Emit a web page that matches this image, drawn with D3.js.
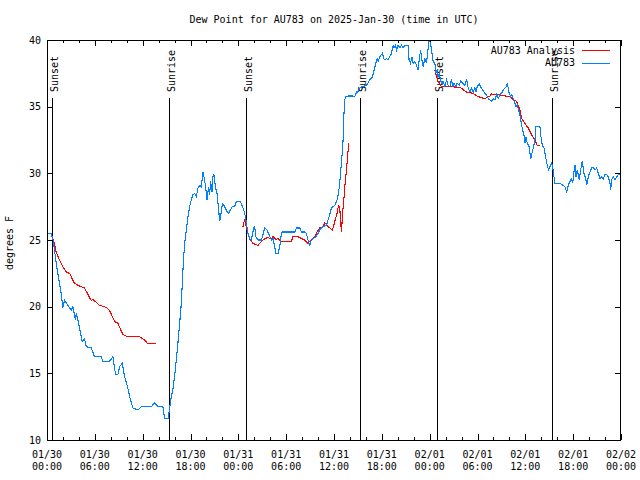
<!DOCTYPE html>
<html><head><meta charset="utf-8">
<script src="https://cdn.jsdelivr.net/npm/d3@7"></script>
<style>
body{margin:0;background:#fff}
svg{display:block;background:#fff}
text{font-family:"DejaVu Sans Mono","Liberation Mono",monospace;font-size:10px;fill:#000}
</style>
</head><body>
<svg id="chart" width="640" height="480"></svg>
<script>
// ---- data ----
const chartTitle = "Dew Point for AU783 on 2025-Jan-30 (time in UTC)";
const yAxisLabel = "degrees F";
const startUTC = Date.UTC(2025, 0, 30, 0, 0);
const xMajorHours = [0, 6, 12, 18, 24, 30, 36, 42, 48, 54, 60, 66, 72];
const xMinorHours = d3.range(0, 73, 2);
const yTickValues = [10, 15, 20, 25, 30, 35, 40];
const seriesNames = ["AU783 Analysis", "AU783"];
const seriesColors = ["#ff0000", "#0080ff"];
const sunLabels = ["Sunset", "Sunrise", "Sunset", "Sunrise", "Sunset", "Sunrise"];
const sunHours  = [0.68, 15.26, 24.9, 39.3, 48.92, 63.38];

// observed dew point [hour since start, °F]
const obs = [[0,25.5],[0.53,25.45],[0.73,25.1],[0.94,24.25],[1.16,23.25],[1.36,22.5],[1.57,21.75],[1.78,21.0],[1.98,19.9],[2.2,20.5],[2.61,20.1],[3.04,19.75],[3.24,20.0],[3.58,19.0],[3.67,19.5],[3.87,19.0],[4.08,18.4],[4.42,17.4],[4.71,17.6],[4.92,17.0],[5.55,16.9],[5.96,16.25],[6.8,16.25],[7.0,15.9],[7.85,15.9],[8.26,16.25],[8.6,14.9],[8.89,14.9],[9.1,15.5],[9.44,15.75],[9.73,14.75],[10.14,13.9],[10.36,13.25],[10.77,12.4],[11.4,12.25],[11.83,12.5],[13.08,12.5],[13.5,12.8],[13.91,12.5],[14.54,12.5],[14.75,11.6],[15.17,11.6],[15.29,12.0],[15.59,13.25],[15.79,13.75],[16.0,14.75],[16.22,16.0],[16.42,17.25],[16.64,18.75],[16.85,20.25],[17.05,22.75],[17.26,24.75],[17.48,25.75],[17.68,26.75],[17.89,27.5],[18.1,28.0],[18.31,28.4],[18.52,28.5],[18.73,28.25],[18.93,28.9],[19.15,29.1],[19.36,29.0],[19.56,30.1],[19.69,29.75],[19.9,29.0],[20.06,28.0],[20.28,29.0],[20.4,28.4],[20.53,29.4],[20.69,28.6],[20.82,29.75],[20.94,29.9],[21.12,29.0],[21.32,28.5],[21.53,27.25],[21.66,26.4],[21.78,26.75],[22.0,27.75],[22.2,27.6],[22.37,27.4],[22.62,27.1],[22.79,27.0],[23.0,27.25],[23.25,27.5],[23.54,27.5],[23.75,27.9],[24.17,27.9],[24.38,27.75],[24.58,27.4],[24.8,27.0],[24.92,26.6],[25.08,26.0],[25.21,25.5],[25.34,25.25],[25.42,25.1],[25.64,25.0],[25.93,25.9],[26.05,26.0],[26.18,25.25],[26.47,25.0],[26.89,25.0],[27.09,25.4],[27.31,25.9],[27.6,25.75],[27.85,25.4],[28.15,25.0],[28.35,25.1],[28.56,24.5],[28.69,24.0],[28.98,24.0],[29.19,24.5],[29.4,25.5],[29.53,25.6],[31.07,25.6],[31.29,25.9],[31.7,25.9],[31.92,25.6],[32.33,25.6],[32.54,25.5],[32.74,25.0],[32.96,24.6],[33.08,24.9],[33.37,25.1],[33.71,25.25],[34.0,25.5],[34.21,25.75],[34.63,26.0],[35.05,26.1],[35.25,26.5],[35.47,26.9],[35.68,27.4],[36.1,27.6],[36.38,28.0],[36.56,28.5],[36.72,29.25],[36.85,30.25],[36.97,31.0],[37.14,32.5],[37.23,34.25],[37.35,35.5],[37.48,35.75],[37.77,35.8],[38.39,35.8],[38.61,35.75],[38.82,36.1],[39.02,36.1],[39.32,36.45],[40.08,36.6],[40.49,37.0],[40.83,37.25],[41.03,37.75],[41.24,38.25],[41.41,38.6],[41.53,38.4],[41.74,38.75],[41.96,38.9],[42.08,39.0],[42.25,38.6],[42.41,38.5],[42.59,38.6],[42.79,38.5],[43.0,38.75],[43.21,39.0],[43.42,39.6],[43.54,39.4],[43.72,39.6],[43.84,39.25],[44.04,39.6],[44.26,39.4],[44.47,39.6],[44.67,39.4],[44.88,39.6],[45.3,39.6],[45.42,38.5],[45.6,38.25],[45.76,38.75],[45.93,38.25],[46.14,38.4],[46.35,38.1],[46.55,37.75],[46.68,38.5],[46.86,39.25],[47.02,38.5],[47.18,38.0],[47.4,38.6],[47.61,38.25],[47.73,39.0],[47.94,40.0],[48.11,39.75],[48.24,39.25],[48.44,38.4],[48.65,38.25],[48.78,37.5],[48.94,37.75],[49.07,37.25],[49.19,37.5],[49.37,37.0],[49.49,36.75],[49.69,36.9],[49.91,36.5],[50.12,37.0],[50.32,36.6],[50.53,36.5],[50.75,37.1],[50.87,36.5],[51.04,36.75],[51.29,36.5],[51.45,36.75],[51.7,36.6],[51.88,36.9],[52.13,36.75],[52.42,36.6],[52.63,37.1],[52.83,36.4],[53.05,36.1],[53.26,36.4],[53.46,36.1],[53.67,36.4],[53.8,36.1],[53.96,36.5],[54.21,36.7],[54.39,36.5],[54.64,36.25],[54.93,36.0],[55.14,35.9],[55.34,35.6],[55.56,35.5],[55.77,35.4],[55.97,35.6],[56.18,35.5],[56.4,35.9],[56.6,35.6],[56.81,35.9],[57.02,36.0],[57.23,36.25],[57.44,36.4],[57.66,36.5],[57.73,36.75],[57.85,36.4],[57.98,36.0],[58.15,35.75],[58.28,35.9],[58.48,35.6],[58.7,35.25],[58.82,35.0],[58.98,35.1],[59.16,34.75],[59.32,34.4],[59.45,33.9],[59.66,33.25],[59.82,32.9],[59.95,32.25],[60.08,32.75],[60.24,32.25],[60.49,32.0],[60.67,31.1],[60.83,31.5],[60.99,31.9],[61.21,32.5],[61.33,33.5],[61.83,33.5],[61.96,32.75],[62.12,32.1],[62.34,31.9],[62.59,31.1],[62.75,30.6],[62.93,30.25],[63.09,30.5],[63.3,30.75],[63.43,30.5],[63.59,29.75],[63.72,29.25],[64.35,29.25],[64.76,29.1],[64.97,29.0],[65.19,28.6],[65.39,29.1],[65.6,29.4],[65.81,29.6],[65.94,29.25],[66.1,30.1],[66.23,30.6],[66.35,29.75],[66.52,30.25],[66.77,29.5],[66.94,30.25],[67.14,30.9],[67.36,30.0],[67.57,29.6],[67.7,29.1],[67.9,29.75],[68.11,30.1],[68.32,30.4],[68.52,30.45],[68.74,30.25],[68.95,30.4],[69.15,30.0],[69.37,29.6],[69.58,29.75],[69.78,29.6],[69.99,29.9],[70.2,29.9],[70.41,29.75],[70.62,29.25],[70.71,28.75],[70.83,29.5],[71.03,29.75],[71.25,29.5],[71.46,29.75],[71.66,29.9],[71.88,29.9],[72,29.9]];

// analysis dew point, three separate runs
const analysis1 = [[0.65,25.25],[0.94,24.75],[1.15,24.1],[1.57,23.5],[1.98,23.0],[2.41,22.6],[2.83,22.5],[3.45,21.75],[4.08,21.55],[4.71,21.4],[5.55,20.45],[5.75,20.55],[6.59,20.1],[7.43,19.95],[7.85,19.7],[8.48,18.9],[8.89,18.75],[9.52,17.9],[10.14,17.75],[11.61,17.75],[12.24,17.5],[12.66,17.2],[13.08,17.25],[13.71,17.25]];
const analysis2 = [[24.58,26.0],[24.8,26.6],[24.92,26.2],[25.08,25.75],[25.42,25.05],[25.84,24.75],[26.47,24.6],[26.89,24.9],[27.31,25.1],[27.72,25.2],[28.15,25.05],[28.35,25.25],[28.69,25.05],[28.98,25.1],[29.4,24.9],[30.66,24.9],[30.86,25.25],[31.49,25.25],[31.92,25.1],[32.33,25.0],[32.74,24.75],[33.17,25.05],[33.58,25.2],[33.87,25.6],[34.21,25.9],[34.63,26.0],[34.84,26.3],[35.13,26.1],[35.47,25.9],[35.81,25.75],[36.1,26.4],[36.38,27.0],[36.56,27.6],[36.72,27.5],[36.81,26.5],[36.94,25.6],[37.07,27.0],[37.23,28.0],[37.39,29.25],[37.57,30.25],[37.77,31.75],[37.86,32.25]];
const analysis3 = [[48.65,37.75],[48.86,37.25],[49.07,36.9],[49.49,36.5],[50.53,36.5],[51.79,36.45],[52.63,36.1],[53.46,36.0],[54.09,35.75],[54.93,35.6],[55.56,35.8],[55.77,35.95],[56.4,35.9],[58.07,35.75],[58.48,35.5],[58.91,35.4],[59.32,34.75],[59.53,34.1],[59.95,33.75],[60.36,33.4],[60.78,32.9],[61.21,32.5],[61.48,32.1],[61.83,32.1]];

// ---- drawing ----
const L = 47, R = 621, T = 40, B = 440;
const svg = d3.select("#chart");
const toDate = h => new Date(startUTC + h * 3600e3);
const x = d3.scaleUtc().domain([toDate(0), toDate(72)]).range([L, R]);
const y = d3.scaleLinear().domain([10, 40]).range([B, T]);

svg.append("rect").attr("width", 640).attr("height", 480).attr("fill", "#fff");

svg.append("text").attr("x", (L + R) / 2).attr("y", 23).attr("text-anchor", "middle").text(chartTitle);

svg.append("text").attr("transform", "translate(13,243) rotate(-90)")
  .attr("text-anchor", "middle").text(yAxisLabel);

svg.append("clipPath").attr("id", "plotclip")
  .append("rect").attr("x", L).attr("y", T).attr("width", R - L).attr("height", B - T + 1);

function styleAxis(g) {
  g.select(".domain").remove();
  g.selectAll(".tick line").attr("stroke", "#000").attr("stroke-width", 1).attr("shape-rendering", "crispEdges");
  g.selectAll(".tick text").remove();
}
const minorOnly = xMinorHours.filter(h => h % 6 !== 0).map(toDate);
const majorDates = xMajorHours.map(toDate);
svg.append("g").attr("transform", `translate(0,${B})`)
  .call(d3.axisBottom(x).tickValues(majorDates).tickSize(-6)).call(styleAxis);
svg.append("g").attr("transform", `translate(0,${B})`)
  .call(d3.axisBottom(x).tickValues(minorOnly).tickSize(-3)).call(styleAxis);
svg.append("g").attr("transform", `translate(0,${T})`)
  .call(d3.axisTop(x).tickValues(majorDates).tickSize(-6)).call(styleAxis);
svg.append("g").attr("transform", `translate(0,${T})`)
  .call(d3.axisTop(x).tickValues(minorOnly).tickSize(-3)).call(styleAxis);
svg.append("g").attr("transform", `translate(${L},0)`)
  .call(d3.axisLeft(y).tickValues(yTickValues).tickSize(-6)).call(styleAxis);
svg.append("g").attr("transform", `translate(${R},0)`)
  .call(d3.axisRight(y).tickValues(yTickValues).tickSize(-6)).call(styleAxis);

const fmtDay = d3.utcFormat("%m/%d"), fmtTime = d3.utcFormat("%H:%M");
const xl = svg.append("g");
majorDates.forEach(d => {
  const t = xl.append("text").attr("text-anchor", "middle");
  t.append("tspan").attr("x", x(d)).attr("y", 458).text(fmtDay(d));
  t.append("tspan").attr("x", x(d)).attr("y", 470).text(fmtTime(d));
});
yTickValues.forEach(v => {
  svg.append("text").attr("x", 41).attr("y", y(v)).attr("dy", "0.35em")
    .attr("text-anchor", "end").text(v);
});

sunHours.forEach((h, i) => {
  const xx = Math.round(x(toDate(h))) + 0.5;
  svg.append("line").attr("x1", xx).attr("x2", xx).attr("y1", 98).attr("y2", B)
    .attr("stroke", "#000").attr("stroke-width", 1).attr("shape-rendering", "crispEdges");
  svg.append("text").attr("transform", `translate(${xx + 5},92) rotate(-90)`)
    .attr("text-anchor", "start").text(sunLabels[i]);
});

const line = d3.line().x(d => x(toDate(d[0]))).y(d => y(d[1]));
const plot = svg.append("g").attr("clip-path", "url(#plotclip)");
[analysis1, analysis2, analysis3].forEach(seg => {
  plot.append("path").datum(seg).attr("d", line).attr("fill", "none")
    .attr("stroke", seriesColors[0]).attr("stroke-width", 1.1).attr("shape-rendering", "crispEdges");
});
plot.append("path").datum(obs).attr("d", line).attr("fill", "none")
  .attr("stroke", seriesColors[1]).attr("stroke-width", 1.1).attr("shape-rendering", "crispEdges");

svg.append("rect").attr("x", L + 0.5).attr("y", T + 0.5).attr("width", R - L - 1).attr("height", B - T)
  .attr("fill", "none").attr("stroke", "#000").attr("stroke-width", 1).attr("shape-rendering", "crispEdges");

seriesNames.forEach((name, i) => {
  const ly = 50 + i * 12.5;
  svg.append("text").attr("x", 575).attr("y", ly).attr("dy", "0.35em")
    .attr("text-anchor", "end").text(name);
  svg.append("line").attr("x1", 582).attr("x2", 610).attr("y1", Math.round(ly) + 0.5).attr("y2", Math.round(ly) + 0.5)
    .attr("stroke", seriesColors[i]).attr("stroke-width", 1).attr("shape-rendering", "crispEdges");
});
</script>
</body></html>
